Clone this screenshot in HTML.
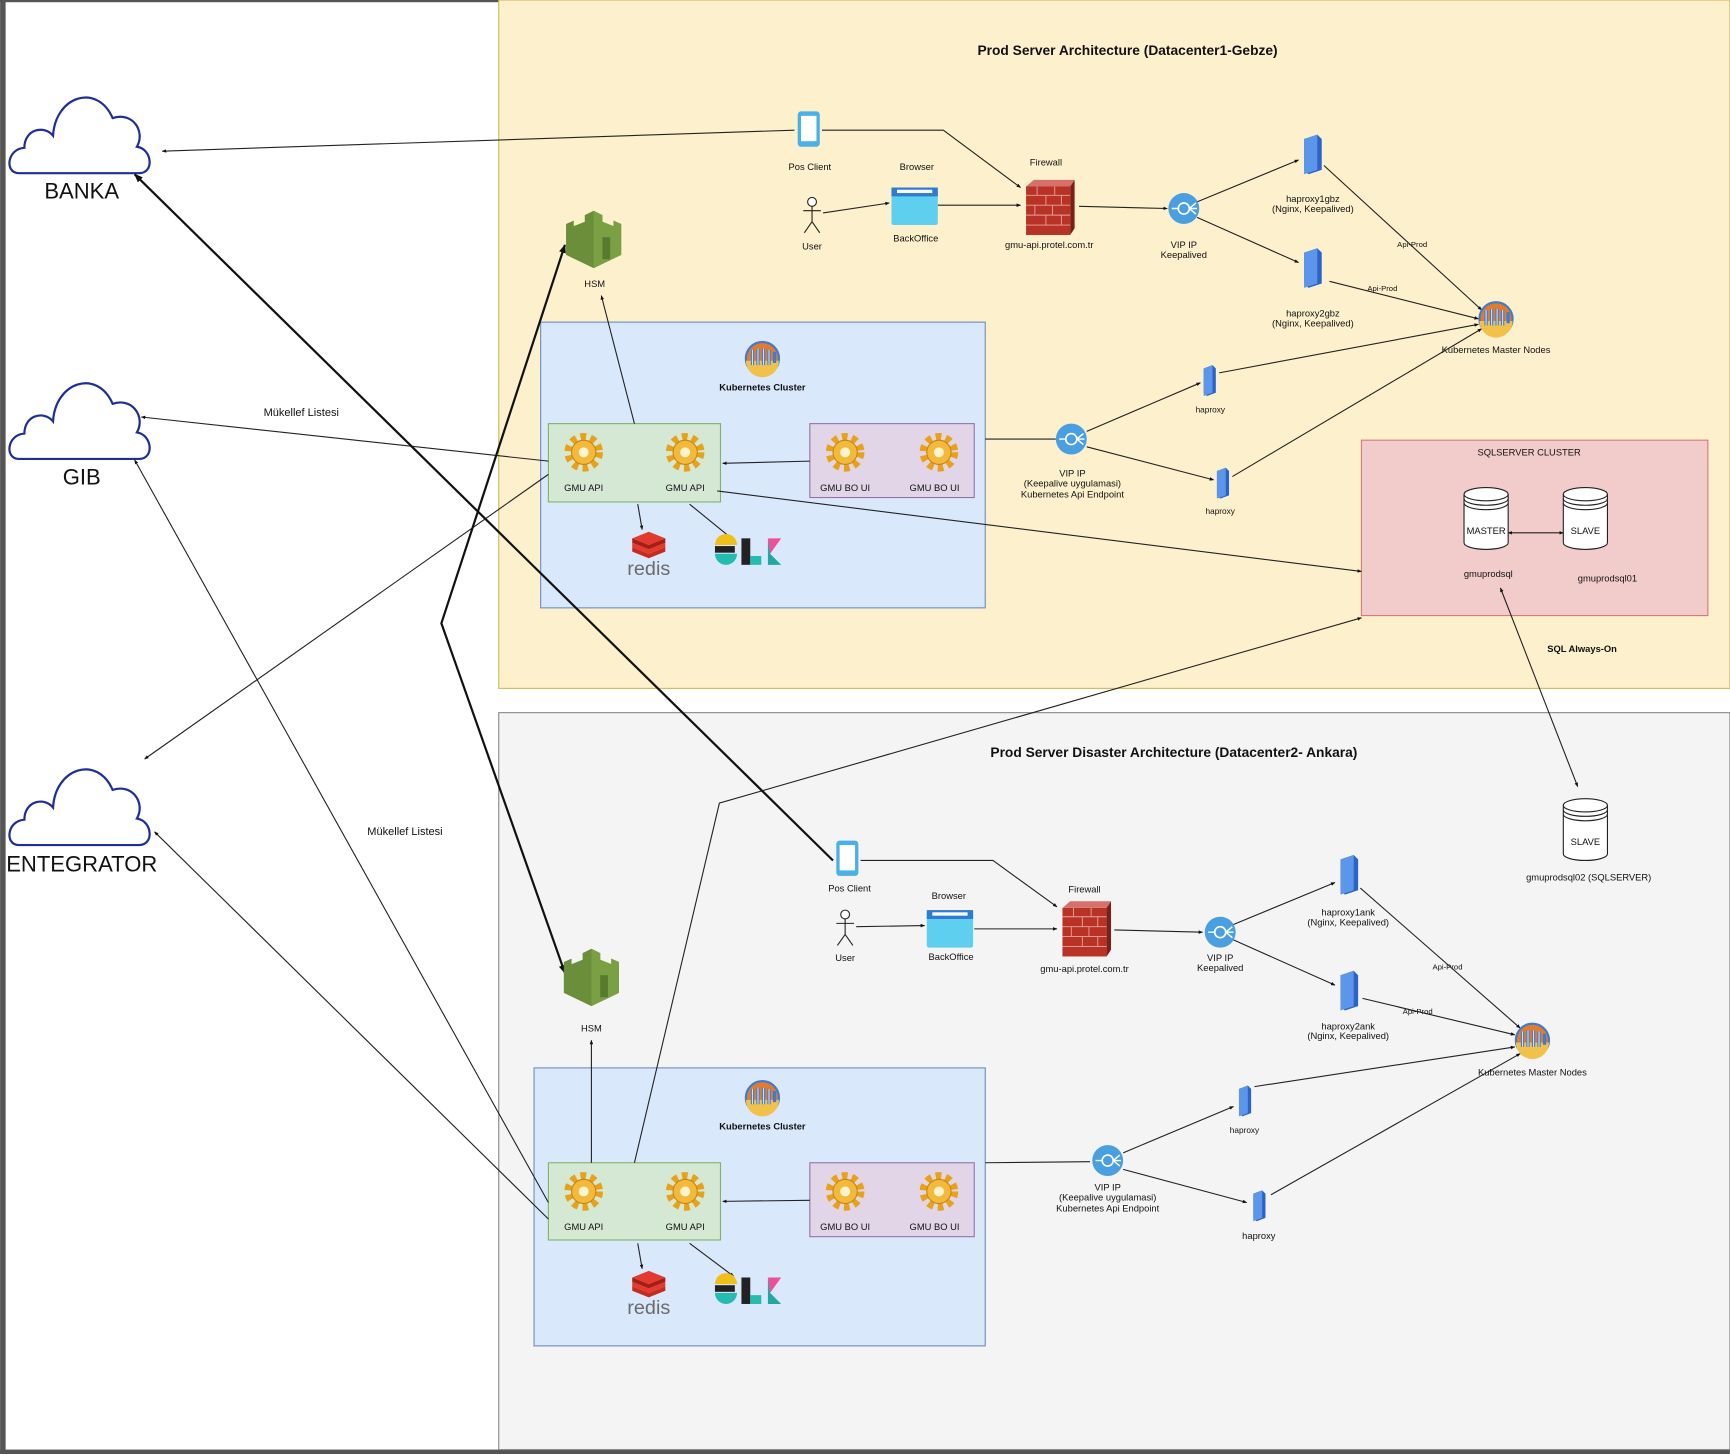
<!DOCTYPE html>
<html><head><meta charset="utf-8"><style>
html,body{margin:0;padding:0;background:#fff;}
svg{display:block;}
text{font-family:"Liberation Sans",sans-serif;fill:#111;}
</style></head><body>
<svg width="1730" height="1454" viewBox="0 0 1568 1318" xmlns="http://www.w3.org/2000/svg">
<defs>
<marker id="a" viewBox="0 0 10 10" refX="9" refY="5" markerWidth="6" markerHeight="6" orient="auto-start-reverse"><path d="M0,1 L10,5 L0,9 z" fill="#111"/></marker>
<marker id="b" viewBox="0 0 10 10" refX="9" refY="5" markerWidth="4" markerHeight="4" orient="auto-start-reverse"><path d="M0,1 L10,5 L0,9 z" fill="#111"/></marker>
<g id="gear"><circle r="14" fill="none" stroke="#e8a21a" stroke-width="7" stroke-dasharray="5 4"/><circle r="11" fill="#f3b93a" stroke="#c88512" stroke-width="1"/><circle r="4.5" fill="#fff3d0"/></g>
<g id="k8s"><circle r="15" fill="#e27c2a" stroke="#3e7bd1" stroke-width="2"/><path d="M-15,2 A15 15 0 0 0 15,2 z" fill="#f2c14a"/><g stroke="#3e7bd1" stroke-width="3" fill="none"><path d="M-9,-8 v14 M-4,-9 v15 M1,-9 v15 M6,-8 v14 M11,-6 v10"/></g><g stroke="#cfe0f7" stroke-width="1" fill="none"><path d="M-9,-8 v14 M-4,-9 v15 M1,-9 v15 M6,-8 v14"/></g></g>
<g id="srv"><path d="M-7,-14 L5,-18 L9,-14 L9,14 L-3,18 L-7,14 z" fill="#2c63c9"/><path d="M-7,-14 L5,-18 L5,14 L-7,18 z" fill="#5b96ea"/></g>
<g id="srvs"><path d="M-5,-11 L3,-14 L6,-11 L6,11 L-2,14 L-5,11 z" fill="#2c63c9"/><path d="M-5,-11 L3,-14 L3,11 L-5,14 z" fill="#5b96ea"/></g>
<g id="vip"><circle r="14" fill="#4a9fe0"/><circle r="5" fill="none" stroke="#fff" stroke-width="1.5"/><path d="M-11,0 h6 M5,0 l6,-5 M5,0 h7 M5,0 l6,5" stroke="#fff" stroke-width="1.3"/></g>
<g id="phone"><rect x="-10" y="-16" width="20" height="32" rx="3" fill="#4ab0e8"/><rect x="-7" y="-12" width="14" height="23" fill="#fff"/></g>
<g id="user" fill="none" stroke="#222" stroke-width="1"><circle cx="0" cy="-14" r="4" fill="#fff"/><path d="M0,-10 v14 M-8,-6 h16 M0,4 l-7,10 M0,4 l7,10"/></g>
<g id="bo"><rect x="-21" y="-17" width="42" height="34" rx="2" fill="#5fcff0"/><rect x="-21" y="-17" width="42" height="8" fill="#2e7bd0"/><rect x="-16" y="-15" width="32" height="3" fill="#fff"/></g>
<g id="fw"><rect x="-20" y="-20" width="40" height="44" fill="#b83226"/><path d="M-20,-20 L-13,-26 L24,-26 L20,-20 z" fill="#d6706a"/><path d="M20,-20 L24,-26 L24,18 L20,24 z" fill="#7d1f19"/><g stroke="#e7a59e" stroke-width="0.8"><path d="M-20,-12 h40 M-20,-3 h40 M-20,6 h40 M-20,15 h40 M-10,-20 v8 M6,-20 v8 M-2,-12 v9 M12,-12 v9 M-12,-3 v9 M4,-3 v9 M-2,6 v9 M12,6 v9"/></g></g>
<g id="hsm"><path d="M-25,-14 L-18,-17 L-18,-12 L-8,-16 L-8,-22 L0,-26 L8,-22 L8,-16 L18,-12 L18,-17 L25,-14 L25,14 L0,26 L-25,14 z" fill="#6b8e3a"/><path d="M0,-26 L8,-22 L8,-16 L18,-12 L18,-17 L25,-14 L25,14 L0,26 z" fill="#7aa043"/><rect x="8" y="-2" width="7" height="20" fill="#587a2e"/></g>
<g id="cyl"><path d="M-20,-22 v44 a20 6 0 0 0 40 0 v-44" fill="#fff" stroke="#222"/><ellipse cx="0" cy="-22" rx="20" ry="6" fill="#fff" stroke="#222"/><path d="M-20,-18 a20 6 0 0 0 40 0 M-20,-14 a20 6 0 0 0 40 0" fill="none" stroke="#222"/></g>
<g id="redis"><path d="M-15,-6 L0,-12 L15,-6 L0,0 z" fill="#e23a2f"/><path d="M-15,-6 v4 L0,4 L15,-2 v-4 L0,0 z" fill="#a41e11"/><path d="M-15,2 L0,8 L15,2 v4 L0,12 L-15,6 z" fill="#c62b20"/><path d="M-15,-2 L0,4 L15,-2 L15,2 L0,8 L-15,2z" fill="#e23a2f"/></g>
<g id="elk"><path d="M-36,-6 a10 10 0 0 1 20 0 z" fill="#f0bf1a"/><path d="M-36,2 a10 10 0 0 0 20 0 z" fill="#24bbb1"/><rect x="-36" y="-5" width="18" height="6" fill="#222"/><rect x="-12" y="-12" width="8" height="24" fill="#222"/><rect x="-4" y="4" width="10" height="8" fill="#24bbb1"/><path d="M12,-12 L24,-12 L14,2 z" fill="#f04e98"/><path d="M12,-12 L12,12 L24,12 L14,2 z" fill="#22a8a0"/></g>
<g id="cloud"><path d="M5,70 C-8,70 -6,48 10,47 C10,30 28,26 36,36 C38,0 76,-12 90,20 C108,14 120,32 112,46 C126,48 128,70 114,70 z" fill="#fff" stroke="#1e2e9a" stroke-width="2"/></g>
</defs>

<rect x="0" y="0" width="1568" height="1318" fill="#fff"/>
<rect x="0" y="0" width="5" height="1318" fill="#555"/>
<rect x="0" y="0" width="1568" height="2" fill="#555"/>
<rect x="0" y="1314" width="1568" height="4" fill="#555"/>

<rect x="452" y="0" width="1116" height="624" fill="#fcf0cd" stroke="#d6b656"/>
<rect x="452" y="646" width="1116" height="668" fill="#f4f4f4" stroke="#888"/>
<text x="1022" y="50" font-size="12.5" font-weight="bold" text-anchor="middle">Prod Server Architecture (Datacenter1-Gebze)</text>
<text x="1064" y="686" font-size="12.5" font-weight="bold" text-anchor="middle">Prod Server Disaster Architecture (Datacenter2- Ankara)</text>

<use href="#cloud" x="12" y="87"/>
<text x="74" y="180" font-size="20" text-anchor="middle">BANKA</text>
<use href="#cloud" x="12" y="346"/>
<text x="74" y="439" font-size="20" text-anchor="middle">GIB</text>
<use href="#cloud" x="12" y="696"/>
<text x="74" y="790" font-size="20" text-anchor="middle">ENTEGRATOR</text>

<rect x="490" y="292" width="403" height="259" fill="#dae8fc" stroke="#6c8ebf"/>
<rect x="497" y="384" width="156" height="71" fill="#d5e8d4" stroke="#82b366"/>
<rect x="734" y="384" width="149" height="67" fill="#e1d5e7" stroke="#9673a6"/>
<rect x="484" y="968" width="409" height="252" fill="#dae8fc" stroke="#6c8ebf"/>
<rect x="497" y="1054" width="156" height="70" fill="#d5e8d4" stroke="#82b366"/>
<rect x="734" y="1054" width="149" height="67" fill="#e1d5e7" stroke="#9673a6"/>
<rect x="1234" y="399" width="314" height="159" fill="#f2cccb" stroke="#d57a76"/>

<g fill="none" stroke="#222" stroke-width="1">
<path d="M720,118 L147,137" marker-end="url(#b)"/>
<path d="M745,118 L855,118 L925,170" marker-end="url(#b)"/>
<path d="M746,193 L806,184" marker-end="url(#b)"/>
<path d="M850,186 L925,186" marker-end="url(#b)"/>
<path d="M978,187 L1058,189" marker-end="url(#b)"/>
<path d="M1085,183 L1177,145" marker-end="url(#b)"/>
<path d="M1085,197 L1177,238" marker-end="url(#b)"/>
<path d="M1200,150 L1343,281" marker-end="url(#b)"/>
<path d="M1205,255 L1340,289" marker-end="url(#b)"/>
<path d="M1105,338 L1340,294" marker-end="url(#b)"/>
<path d="M1117,432 L1343,298" marker-end="url(#b)"/>
<path d="M985,391 L1088,347" marker-end="url(#b)"/>
<path d="M985,405 L1100,435" marker-end="url(#b)"/>
<path d="M893,398 L957,398"/>
<path d="M734,418 L655,420" marker-end="url(#b)"/>
<path d="M497,418 L128,378" marker-end="url(#b)"/>
<path d="M497,430 L131,688" marker-end="url(#b)"/>
<path d="M650,445 L1234,518" marker-end="url(#b)"/>
<path d="M575,384 L545,268" marker-end="url(#b)"/>
<path d="M578,457 L582,480" marker-end="url(#b)"/>
<path d="M625,457 L663,488" marker-end="url(#b)"/>
<path d="M1367,483 L1417,483" marker-start="url(#b)" marker-end="url(#b)"/>
<path d="M1360,533 L1430,713" marker-start="url(#b)" marker-end="url(#b)"/>
<path d="M575,1054 L652,728 L1234,560" marker-end="url(#b)"/>
<path d="M497,1090 L122,417" marker-end="url(#b)"/>
<path d="M497,1105 L140,754" marker-end="url(#b)"/>
<path d="M536,1054 L536,943" marker-end="url(#b)"/>
<path d="M780,780 L900,780 L958,822" marker-end="url(#b)"/>
<path d="M776,840 L838,839" marker-end="url(#b)"/>
<path d="M883,842 L958,842" marker-end="url(#b)"/>
<path d="M1010,843 L1090,845" marker-end="url(#b)"/>
<path d="M1118,838 L1210,800" marker-end="url(#b)"/>
<path d="M1118,852 L1210,893" marker-end="url(#b)"/>
<path d="M1233,805 L1378,932" marker-end="url(#b)"/>
<path d="M1235,905 L1373,938" marker-end="url(#b)"/>
<path d="M1137,985 L1373,949" marker-end="url(#b)"/>
<path d="M1152,1083 L1378,955" marker-end="url(#b)"/>
<path d="M1018,1045 L1118,1003" marker-end="url(#b)"/>
<path d="M1018,1060 L1130,1090" marker-end="url(#b)"/>
<path d="M893,1054 L988,1053"/>
<path d="M734,1088 L655,1089" marker-end="url(#b)"/>
<path d="M578,1127 L582,1150" marker-end="url(#b)"/>
<path d="M625,1127 L665,1157" marker-end="url(#b)"/>
</g>
<g fill="none" stroke="#111" stroke-width="2">
<path d="M755,780 L122,158" marker-end="url(#b)"/>
<path d="M512,222 L400,565 L512,882" marker-start="url(#b)" marker-end="url(#b)"/>
</g>

<use href="#phone" x="733" y="117"/>
<use href="#user" x="736" y="197"/>
<use href="#bo" x="829" y="187"/>
<use href="#fw" x="950" y="189"/>
<use href="#vip" x="1073" y="189"/>
<use href="#srv" x="1189" y="140"/>
<use href="#srv" x="1189" y="243"/>
<use href="#k8s" x="1356" y="289"/>
<use href="#srvs" x="1096" y="345"/>
<use href="#srvs" x="1108" y="438"/>
<use href="#vip" x="971" y="398"/>
<use href="#hsm" x="538" y="217"/>
<use href="#k8s" x="691" y="325"/>
<use href="#gear" x="529" y="410"/>
<use href="#gear" x="621" y="410"/>
<use href="#gear" x="766" y="410"/>
<use href="#gear" x="851" y="410"/>
<use href="#redis" x="588" y="494"/>
<use href="#elk" x="684" y="500"/>
<use href="#cyl" x="1347" y="470"/>
<use href="#cyl" x="1437" y="470"/>
<use href="#cyl" x="1437" y="752"/>

<use href="#phone" x="768" y="778"/>
<use href="#user" x="766" y="843"/>
<use href="#bo" x="861" y="842"/>
<use href="#fw" x="983" y="843"/>
<use href="#vip" x="1106" y="845"/>
<use href="#srv" x="1222" y="793"/>
<use href="#srv" x="1222" y="898"/>
<use href="#k8s" x="1389" y="943"/>
<use href="#srvs" x="1128" y="998"/>
<use href="#srvs" x="1141" y="1093"/>
<use href="#vip" x="1004" y="1052"/>
<use href="#hsm" x="536" y="886"/>
<use href="#k8s" x="691" y="995"/>
<use href="#gear" x="529" y="1080"/>
<use href="#gear" x="621" y="1080"/>
<use href="#gear" x="766" y="1080"/>
<use href="#gear" x="851" y="1080"/>
<use href="#redis" x="588" y="1164"/>
<use href="#elk" x="684" y="1170"/>

<g font-size="8.5" text-anchor="middle">
<text x="734" y="154">Pos Client</text>
<text x="831" y="154">Browser</text>
<text x="736" y="226">User</text>
<text x="830" y="219">BackOffice</text>
<text x="948" y="150">Firewall</text>
<text x="951" y="225">gmu-api.protel.com.tr</text>
<text x="1073" y="225">VIP IP</text><text x="1073" y="234">Keepalived</text>
<text x="1190" y="183">haproxy1gbz</text><text x="1190" y="192">(Nginx, Keepalived)</text>
<text x="1190" y="287">haproxy2gbz</text><text x="1190" y="296">(Nginx, Keepalived)</text>
<text x="1280" y="224" font-size="7">Api-Prod</text>
<text x="1253" y="264" font-size="7">Api-Prod</text>
<text x="1356" y="320">Kubernetes Master Nodes</text>
<text x="1097" y="374" font-size="7.5">haproxy</text>
<text x="1106" y="466" font-size="7.5">haproxy</text>
<text x="972" y="432">VIP IP</text><text x="972" y="441">(Keepalive uygulamasi)</text><text x="972" y="451">Kubernetes Api Endpoint</text>
<text x="1386" y="413">SQLSERVER CLUSTER</text>
<text x="1347" y="484">MASTER</text>
<text x="1437" y="484">SLAVE</text>
<text x="1349" y="523">gmuprodsql</text>
<text x="1457" y="527">gmuprodsql01</text>
<text x="1434" y="591" font-weight="bold">SQL Always-On</text>
<text x="1437" y="766">SLAVE</text>
<text x="1440" y="798">gmuprodsql02 (SQLSERVER)</text>
<text x="539" y="260">HSM</text>
<text x="691" y="354" font-weight="bold">Kubernetes Cluster</text>
<text x="529" y="445">GMU API</text><text x="621" y="445">GMU API</text>
<text x="766" y="445">GMU BO UI</text><text x="847" y="445">GMU BO UI</text>
<text x="273" y="377" font-size="10">Mükellef Listesi</text>
<text x="367" y="757" font-size="10">Mükellef Listesi</text>
<text x="770" y="808">Pos Client</text>
<text x="860" y="815">Browser</text>
<text x="766" y="871">User</text>
<text x="862" y="870">BackOffice</text>
<text x="983" y="809">Firewall</text>
<text x="983" y="881">gmu-api.protel.com.tr</text>
<text x="1106" y="871">VIP IP</text><text x="1106" y="880">Keepalived</text>
<text x="1222" y="830">haproxy1ank</text><text x="1222" y="839">(Nginx, Keepalived)</text>
<text x="1222" y="933">haproxy2ank</text><text x="1222" y="942">(Nginx, Keepalived)</text>
<text x="1312" y="879" font-size="7">Api-Prod</text>
<text x="1285" y="919" font-size="7">Api-Prod</text>
<text x="1389" y="975">Kubernetes Master Nodes</text>
<text x="1128" y="1027" font-size="7.5">haproxy</text>
<text x="1141" y="1123">haproxy</text>
<text x="1004" y="1079">VIP IP</text><text x="1004" y="1088">(Keepalive uygulamasi)</text><text x="1004" y="1098">Kubernetes Api Endpoint</text>
<text x="536" y="935">HSM</text>
<text x="691" y="1024" font-weight="bold">Kubernetes Cluster</text>
<text x="529" y="1115">GMU API</text><text x="621" y="1115">GMU API</text>
<text x="766" y="1115">GMU BO UI</text><text x="847" y="1115">GMU BO UI</text>
</g>
<text x="588" y="521" font-size="18" text-anchor="middle" style="fill:#6b6b6b">redis</text>
<text x="588" y="1191" font-size="18" text-anchor="middle" style="fill:#6b6b6b">redis</text>
</svg>
</body></html>
